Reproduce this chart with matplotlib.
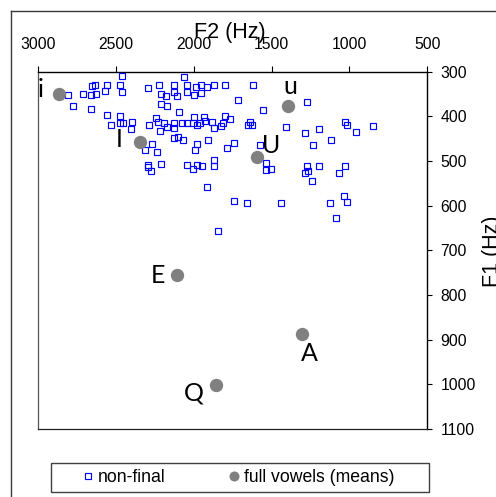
import matplotlib
matplotlib.use("Agg")
import matplotlib.pyplot as plt
from matplotlib.lines import Line2D
from matplotlib.patches import Rectangle

plt.rcParams['font.family'] = ['Liberation Sans', 'DejaVu Sans']

# Non-final vowel tokens: second formant (Hz) and first formant (Hz)
nonfinal_f2 = [2464, 2062, 2652, 2636, 2558, 2477, 2297, 2224, 2130, 2046,
               1988, 2811, 2711, 2659, 2629, 2573, 2462, 2211, 2181, 2128,
               2107, 2046, 2001, 2779, 2661, 2211, 2173, 2096, 2557, 2475,
               2535, 2477, 2456, 2400, 2406, 2289, 2245, 2229, 2220, 2190,
               2175, 2130, 2128, 2078, 2046, 2004, 1997, 1982, 2104, 2128,
               2068, 2269, 2314, 2239, 1982, 1993, 2297, 2297, 2276, 2213,
               2046, 2004, 1982, 1954, 1918, 1871, 1800, 1622, 1952, 1718,
               1271, 1558, 1935, 1800, 1768, 1961, 1929, 1886, 1871, 1826,
               1811, 1639, 1650, 1625, 1410, 1029, 1018, 958, 1194, 1284,
               1119, 1233, 1907, 1744, 1785, 1575, 1950, 1871, 1871, 1537,
               1537, 1506, 1275, 1286, 1265, 1243, 1194, 1029, 1067, 851,
               1914, 1740, 1661, 1442, 1125, 1035, 1018, 1087, 1843]
nonfinal_f1 = [309, 313, 332, 330, 330, 330, 337, 331, 330, 329,
               335, 352, 350, 352, 350, 343, 345, 350, 354, 346,
               355, 346, 352, 378, 384, 373, 378, 390, 397, 399,
               420, 414, 414, 412, 428, 420, 403, 412, 433, 415,
               423, 414, 427, 414, 414, 414, 401, 420, 446, 449,
               452, 463, 476, 481, 462, 476, 508, 513, 523, 507,
               508, 519, 508, 330, 334, 330, 330, 331, 349, 363,
               369, 386, 402, 399, 405, 414, 411, 413, 427, 422,
               416, 412, 420, 420, 423, 412, 420, 436, 429, 438,
               453, 464, 453, 459, 470, 464, 511, 498, 511, 505,
               520, 517, 511, 526, 523, 544, 511, 511, 526, 421,
               559, 589, 595, 595, 595, 578, 591, 628, 657]

# Full vowel means
vowel_labels = ['i', 'I', 'u', 'U', 'E', 'A', 'Q']
vowel_f2 = [2867, 2346, 1397, 1592, 2110, 1303, 1860]
vowel_f1 = [350, 458, 377, 492, 756, 887, 1002]
# label offsets (points) from each mean
label_dx = [-13.0, -14.9, 2.2, 9.9, -13.8, 4.8, -16.1]
label_dy = [-2.2, -3.6, 8.4, 3.2, -5.5, -19.9, -11.0]

f2_ticks = [3000, 2500, 2000, 1500, 1000, 500]
f1_ticks = [300, 400, 500, 600, 700, 800, 900, 1000, 1100]

W_PX, H_PX = 496, 497


def fx(px):
    return px / W_PX


def fy(py):
    return 1 - py / H_PX


fig = plt.figure(figsize=(W_PX / 100, H_PX / 100), dpi=100)

left, right, top, bottom = 38.3, 427.3, 71.6, 429.0
ax = fig.add_axes([fx(left), fy(bottom), fx(right) - fx(left), fy(top) - fy(bottom)])

sq_color = '#0000ff'
ax.plot(nonfinal_f2, nonfinal_f1, ls='none', marker='s', markersize=4.4,
        mfc='none', mec=sq_color, mew=0.85, zorder=3)
ax.plot(vowel_f2, vowel_f1, ls='none', marker='o', markersize=9.6,
        color='#808080', mec='none', zorder=4)

for lab, x, y, dx, dy in zip(vowel_labels, vowel_f2, vowel_f1, label_dx, label_dy):
    ax.annotate(lab, (x, y), xytext=(dx, dy), textcoords='offset points',
                ha='center', va='baseline', fontsize=18, family='Lato',
                color='black', zorder=5)

ax.set_xlim(3000, 500)
ax.set_ylim(1100, 300)
ax.xaxis.tick_top()
ax.yaxis.tick_right()
ax.set_xticks(f2_ticks)
ax.set_yticks(f1_ticks)
ax.set_xticklabels([str(t) for t in f2_ticks])
ax.set_yticklabels([str(t) for t in f1_ticks])
ax.tick_params(axis='x', direction='out', length=4.3, width=0.8, pad=9.5,
               labelsize=11.3, top=True, bottom=False, colors='black')
ax.tick_params(axis='y', direction='out', length=3.6, width=0.8, pad=6,
               labelsize=11.3, right=True, left=False, colors='black')
for side in ['top', 'right']:
    ax.spines[side].set_color('black')
    ax.spines[side].set_linewidth(1.0)
ax.spines['left'].set_color('#555555')
ax.spines['left'].set_linewidth(0.9)
ax.spines['bottom'].set_color('#222222')
ax.spines['bottom'].set_linewidth(0.9)

fig.text(fx(230), fy(38.3), 'F2 (Hz)', ha='center', va='baseline', fontsize=15.5)
fig.text(fx(498), fy(251.5), 'F1 (Hz)', ha='center', va='baseline',
         rotation=90, rotation_mode='anchor', fontsize=15.5)

# chart frame
fig.add_artist(Line2D([fx(10.7), fx(10.7)], [fy(10.7), 0], color='#3a3a3a', lw=1.0))
fig.add_artist(Line2D([fx(10.7), 1], [fy(10.7), fy(10.7)], color='#3a3a3a', lw=1.0))

# legend box
fig.add_artist(Rectangle((fx(50.7), fy(491.7)), fx(429.3) - fx(50.7), fy(462.7) - fy(491.7),
                         transform=fig.transFigure, fill=False, edgecolor='#404040', lw=1.0))
handles = [
    Line2D([], [], ls='none', marker='s', markersize=4.4, mfc='none', mec=sq_color, mew=0.85),
    Line2D([], [], ls='none', marker='o', markersize=7.2, color='#808080', mec='none'),
]
fig.legend(handles, ['non-final', 'full vowels (means)'], loc='center left',
           bbox_to_anchor=(fx(79.2), fy(477.2)), frameon=False, ncol=2,
           handlelength=1.0, handletextpad=0.05, columnspacing=3.4,
           borderpad=0, borderaxespad=0, fontsize=12.7)

fig.savefig('out.png', dpi=100)
